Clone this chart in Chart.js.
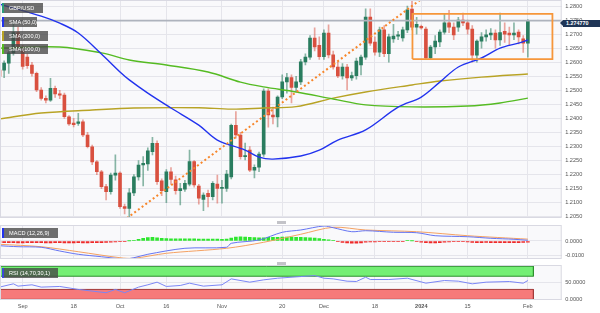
<!DOCTYPE html>
<html>
<head>
<meta charset="utf-8">
<script src="https://cdn.jsdelivr.net/npm/chart.js@4.4.1/dist/chart.umd.min.js"></script>
<style>
  html, body { margin: 0; padding: 0; background: #fff; }
  #wrap { position: relative; width: 600px; height: 313px; overflow: hidden; font-family: "Liberation Sans", Arial, sans-serif; }
  .pane { position: absolute; left: 0; }
  .tag { position: absolute; left: 2px; height: 10px; line-height: 10px; font-size: 5.6px; color: #fff;
         background: rgba(70, 70, 70, 0.78); padding-left: 5px; border-left: 2px solid; box-sizing: border-box; white-space: nowrap; z-index: 5; }
  .handle { position: absolute; left: 277px; width: 9px; height: 3px; background: #c3c3c8; z-index: 5; }
  #lastPrice { position: absolute; left: 563px; top: 20px; width: 37px; height: 7px; line-height: 7px; background: #1f3556;
               color: #fff; font-size: 5.4px; font-weight: bold; padding-left: 3px; box-sizing: border-box; z-index: 5; }
  #lastPrice:before { content: ""; position: absolute; left: -3px; top: 0; border-top: 3.5px solid transparent;
               border-bottom: 3.5px solid transparent; border-right: 3px solid #1f3556; }
</style>
</head>
<body>
<div id="wrap">
  <div class="pane" style="top:0"><canvas id="mainChart" width="600" height="222"></canvas></div>
  <div class="pane" style="top:222px"><canvas id="macdChart" width="600" height="40"></canvas></div>
  <div class="pane" style="top:262px"><canvas id="rsiChart" width="600" height="51"></canvas></div>

  <div class="tag" style="top:3px;width:41px;border-color:#2a9d7a">GBP/USD</div>
  <div class="tag" style="top:17px;width:35px;border-color:#2233ee">SMA (50,0)</div>
  <div class="tag" style="top:31px;width:46px;border-color:#b8a325">SMA (200,0)</div>
  <div class="tag" style="top:44px;width:46px;border-color:#55bb22">SMA (100,0)</div>
  <div class="tag" style="top:228px;width:56px;border-color:#2233ee">MACD (12,26,9)</div>
  <div class="tag" style="top:267.5px;width:56px;border-color:#3b49d8">RSI (14,70,30,1)</div>
  <div class="handle" style="top:221px"></div>
  <div class="handle" style="top:261.5px"></div>
  <div id="lastPrice">1.274770</div>
</div>

<script>
// === DATA ===
// x = trading day index (0 = Aug 25 2023 ... 114 = Feb 1 2024)
var tickIdx = [5, 16, 26, 36, 48, 61, 70, 81, 91, 101, 114];
var tickLabels = ['Sep', '18', 'Oct', '16', 'Nov', '20', 'Dec', '18', '2024', '15', 'Feb'];
var priceTicks = [1.2050, 1.2100, 1.2150, 1.2200, 1.2250, 1.2300, 1.2350, 1.2400,
                  1.2450, 1.2500, 1.2550, 1.2600, 1.2650, 1.2700, 1.2750, 1.2800];
var macdTicks = [-0.0100, 0.0000];
var rsiTicks = [0, 50];

var opens = [
  1.2572, 1.2572, 1.2597, 1.2633, 1.2705, 1.2640, 1.2618, 1.2590, 1.2560, 1.2501,
  1.2471, 1.2465, 1.2507, 1.2487, 1.2483, 1.2406, 1.2383, 1.2382, 1.2388, 1.2341,
  1.2299, 1.2245, 1.2210, 1.2157, 1.2139, 1.2198, 1.2205, 1.2086, 1.2080, 1.2135,
  1.2192, 1.2234, 1.2238, 1.2282, 1.2311, 1.2178, 1.2139, 1.2210, 1.2181, 1.2143,
  1.2148, 1.2166, 1.2246, 1.2159, 1.2112, 1.2133, 1.2121, 1.2166, 1.2151, 1.2151,
  1.2192, 1.2375, 1.2341, 1.2264, 1.2287, 1.2216, 1.2226, 1.2273, 1.2497, 1.2412,
  1.2405, 1.2476, 1.2530, 1.2545, 1.2510, 1.2530, 1.2601, 1.2618, 1.2686, 1.2660,
  1.2620, 1.2704, 1.2626, 1.2583, 1.2551, 1.2583, 1.2544, 1.2552, 1.2590, 1.2618,
  1.2761, 1.2672, 1.2636, 1.2715, 1.2630, 1.2683, 1.2693, 1.2686, 1.2715, 1.2789,
  1.2725, 1.2728, 1.2718, 1.2615, 1.2654, 1.2672, 1.2707, 1.2740, 1.2725, 1.2725,
  1.2750, 1.2740, 1.2718, 1.2625, 1.2675, 1.2690, 1.2697, 1.2704, 1.2679, 1.2710,
  1.2704, 1.2697, 1.2707, 1.2683, 1.2668
];
var highs = [
  1.2590, 1.2605, 1.2640, 1.2746, 1.2725, 1.2660, 1.2630, 1.2600, 1.2565, 1.2510,
  1.2480, 1.2543, 1.2515, 1.2500, 1.2490, 1.2410, 1.2400, 1.2418, 1.2395, 1.2350,
  1.2305, 1.2250, 1.2215, 1.2165, 1.2205, 1.2270, 1.2210, 1.2095, 1.2150, 1.2200,
  1.2250, 1.2264, 1.2295, 1.2333, 1.2320, 1.2185, 1.2218, 1.2225, 1.2195, 1.2169,
  1.2180, 1.2287, 1.2250, 1.2165, 1.2135, 1.2145, 1.2175, 1.2198, 1.2180, 1.2215,
  1.2380, 1.2424, 1.2350, 1.2312, 1.2300, 1.2235, 1.2280, 1.2505, 1.2505, 1.2440,
  1.2480, 1.2555, 1.2560, 1.2555, 1.2550, 1.2610, 1.2630, 1.2695, 1.2722, 1.2690,
  1.2715, 1.2733, 1.2640, 1.2600, 1.2595, 1.2592, 1.2565, 1.2615, 1.2625, 1.2790,
  1.2790, 1.2690, 1.2725, 1.2730, 1.2700, 1.2735, 1.2710, 1.2725, 1.2800, 1.2827,
  1.2760, 1.2732, 1.2725, 1.2660, 1.2695, 1.2715, 1.2770, 1.2785, 1.2740, 1.2760,
  1.2775, 1.2750, 1.2730, 1.2680, 1.2705, 1.2715, 1.2720, 1.2715, 1.2775, 1.2740,
  1.2725, 1.2740, 1.2715, 1.2695, 1.2752
];
var lows = [
  1.2540, 1.2545, 1.2560, 1.2625, 1.2645, 1.2575, 1.2578, 1.2550, 1.2495, 1.2465,
  1.2455, 1.2460, 1.2475, 1.2470, 1.2400, 1.2375, 1.2370, 1.2375, 1.2335, 1.2295,
  1.2235, 1.2200, 1.2150, 1.2110, 1.2130, 1.2180, 1.2080, 1.2060, 1.2045, 1.2125,
  1.2180, 1.2160, 1.2215, 1.2270, 1.2165, 1.2125, 1.2100, 1.2165, 1.2130, 1.2092,
  1.2140, 1.2160, 1.2155, 1.2095, 1.2072, 1.2085, 1.2110, 1.2098, 1.2098, 1.2140,
  1.2185, 1.2330, 1.2255, 1.2252, 1.2210, 1.2188, 1.2210, 1.2265, 1.2369, 1.2380,
  1.2370, 1.2470, 1.2490, 1.2455, 1.2495, 1.2520, 1.2590, 1.2610, 1.2640, 1.2610,
  1.2610, 1.2615, 1.2575, 1.2545, 1.2540, 1.2501, 1.2535, 1.2540, 1.2555, 1.2610,
  1.2660, 1.2625, 1.2620, 1.2620, 1.2600, 1.2670, 1.2680, 1.2675, 1.2705, 1.2715,
  1.2700, 1.2718, 1.2610, 1.2610, 1.2630, 1.2655, 1.2700, 1.2705, 1.2680, 1.2710,
  1.2730, 1.2700, 1.2600, 1.2600, 1.2650, 1.2675, 1.2680, 1.2650, 1.2660, 1.2670,
  1.2660, 1.2680, 1.2665, 1.2635, 1.2618
];
var closes = [
  1.2550, 1.2597, 1.2633, 1.2705, 1.2655, 1.2585, 1.2588, 1.2560, 1.2501, 1.2471,
  1.2465, 1.2507, 1.2487, 1.2483, 1.2406, 1.2380, 1.2378, 1.2388, 1.2341, 1.2299,
  1.2245, 1.2210, 1.2157, 1.2139, 1.2198, 1.2205, 1.2086, 1.2080, 1.2135, 1.2192,
  1.2234, 1.2240, 1.2285, 1.2311, 1.2175, 1.2143, 1.2210, 1.2183, 1.2143, 1.2150,
  1.2169, 1.2246, 1.2163, 1.2116, 1.2127, 1.2121, 1.2169, 1.2151, 1.2155, 1.2202,
  1.2375, 1.2341, 1.2264, 1.2268, 1.2216, 1.2226, 1.2273, 1.2497, 1.2412, 1.2405,
  1.2476, 1.2530, 1.2545, 1.2510, 1.2530, 1.2601, 1.2618, 1.2686, 1.2654, 1.2620,
  1.2704, 1.2626, 1.2583, 1.2551, 1.2583, 1.2544, 1.2552, 1.2604, 1.2618, 1.2761,
  1.2668, 1.2636, 1.2715, 1.2630, 1.2690, 1.2693, 1.2697, 1.2715, 1.2786, 1.2725,
  1.2735, 1.2722, 1.2615, 1.2654, 1.2675, 1.2707, 1.2740, 1.2725, 1.2697, 1.2750,
  1.2740, 1.2718, 1.2625, 1.2675, 1.2690, 1.2697, 1.2704, 1.2679, 1.2705, 1.2700,
  1.2697, 1.2704, 1.2690, 1.2668, 1.2748
];
var lastPrice = 1.274770;

// moving averages at these day indexes
var sma50X = [0, 9, 13, 17, 22, 26, 28, 32, 37, 43, 47, 53, 56, 59, 65, 69, 73, 79, 86, 91, 95, 99, 104, 108, 112, 114];
var sma50Y = [1.2807, 1.2764, 1.2739, 1.2704, 1.2629, 1.2565, 1.2537, 1.2490, 1.2437, 1.2376, 1.2323, 1.2287, 1.2262,
              1.2255, 1.2266, 1.2287, 1.2323, 1.2359, 1.2440, 1.2476, 1.2529, 1.2583, 1.2615, 1.2650, 1.2668, 1.2679];
var sma100X = [0, 13, 22, 28, 36, 45, 52, 57, 64, 72, 79, 89, 101, 108, 114];
var sma100Y = [1.2650, 1.2654, 1.2633, 1.2608, 1.2590, 1.2565, 1.2529, 1.2512, 1.2494, 1.2469, 1.2448, 1.2441, 1.2444, 1.2455, 1.2472];
var sma200X = [0, 9, 20, 29, 43, 50, 57, 64, 72, 79, 89, 95, 104, 114];
var sma200Y = [1.2398, 1.2419, 1.2430, 1.2437, 1.2438, 1.2433, 1.2437, 1.2442, 1.2472, 1.2494, 1.2519, 1.2533, 1.2547, 1.2558];

// drawings: rising trend line and the range box
var trendX = [27.5, 90.7];
var trendY = [1.2045, 1.2821];
var boxX = [89.1, 119.3];
var boxY = [1.2611, 1.2772];

// MACD (12,26,9)
var macdX = [0, 4, 9, 13, 17, 22, 27, 29, 32, 40, 49, 50, 56, 61, 65, 70, 72, 76, 79, 85, 90, 94, 101, 106, 111, 114];
var macdY = [-0.0033, -0.0040, -0.0044, -0.0070, -0.0093, -0.0110, -0.0126, -0.0117, -0.0093, -0.0051, -0.0044, -0.0016, 0.0007,
             0.0061, 0.0077, 0.0105, 0.0093, 0.0065, 0.0072, 0.0061, 0.0058, 0.0037, 0.0030, 0.0019, 0.0012, 0.0005];
var signalX = [0, 9, 17, 26, 29, 36, 49, 57, 65, 72, 79, 90, 101, 114];
var signalY = [-0.0023, -0.0040, -0.0075, -0.0117, -0.0121, -0.0086, -0.0051, -0.0009, 0.0047, 0.0096, 0.0077, 0.0065, 0.0037, 0.0013];
var macdHist = [
  -0.0010, -0.0011, -0.0012, -0.0012, -0.0013, -0.0013, -0.0012, -0.0012, -0.0011, -0.0012,
  -0.0013, -0.0013, -0.0012, -0.0012, -0.0013, -0.0014, -0.0013, -0.0012, -0.0013, -0.0013,
  -0.0012, -0.0011, -0.0011, -0.0010, -0.0009, -0.0007, -0.0005, -0.0002, 0.0001, 0.0005,
  0.0012, 0.0018, 0.0024, 0.0026, 0.0022, 0.0018, 0.0017, 0.0016, 0.0015, 0.0015,
  0.0015, 0.0016, 0.0015, 0.0014, 0.0013, 0.0013, 0.0013, 0.0013, 0.0012, 0.0014,
  0.0020, 0.0028, 0.0030, 0.0028, 0.0026, 0.0024, 0.0022, 0.0022, 0.0025, 0.0025,
  0.0026, 0.0028, 0.0028, 0.0027, 0.0026, 0.0025, 0.0024, 0.0022, 0.0020, 0.0017,
  0.0012, 0.0008, 0.0003, -0.0002, -0.0010, -0.0014, -0.0016, -0.0016, -0.0014, -0.0008,
  -0.0006, -0.0006, -0.0005, -0.0005, -0.0004, -0.0004, -0.0003, -0.0002, 0.0002, 0.0001,
  -0.0002, -0.0008, -0.0012, -0.0014, -0.0014, -0.0012, -0.0008, -0.0006, -0.0005, -0.0005,
  -0.0004, -0.0006, -0.0010, -0.0012, -0.0012, -0.0010, -0.0011, -0.0011, -0.0012, -0.0012,
  -0.0012, -0.0011, -0.0011, -0.0010, -0.0008
];

// RSI (14)
var rsiX = [0, 3, 4, 7, 9, 13, 17, 23, 25, 27, 30, 32, 34, 36, 39, 41, 44, 48, 50, 54,
            57, 60, 65, 68, 70, 72, 75, 77, 79, 80, 84, 88, 92, 96, 99, 102, 105, 110, 113, 114];
var rsiY = [37, 47, 40, 44, 37, 39, 30, 20, 30, 20, 37, 44, 52, 39, 42, 49, 40, 44, 62, 52,
            59, 64, 69, 72, 64, 62, 55, 54, 67, 60, 60, 64, 49, 57, 55, 47, 52, 54, 49, 57];
var rsiBandX = [0, 115.2];
var rsiUpper = [70, 100];
var rsiLower = [0, 30];

// === SETTINGS ===
var X_MIN = 0.108, X_MAX = 121.3;
var MAIN_MIN = 1.20455, MAIN_MAX = 1.28214;
var GREEN = '#2a7d5f', RED = '#d9503f';

Chart.defaults.font.family = '"Liberation Sans", Arial, sans-serif';
Chart.defaults.font.size = 5.6;
Chart.defaults.color = '#555';

function pts(xs, ys) {
    return xs.map(function (x, i) { return { x: x, y: ys[i] }; });
}
function rectPts(xs, ys) {
    return [{ x: xs[0], y: ys[0] }, { x: xs[0], y: ys[1] }, { x: xs[1], y: ys[1] }, { x: xs[1], y: ys[0] }, { x: xs[0], y: ys[0] }];
}
function lineSet(data, color, width, order, extra) {
    var ds = { type: 'line', data: data, borderColor: color, borderWidth: width, pointRadius: 0,
               fill: false, tension: 0, order: order };
    for (var k in extra) ds[k] = extra[k];
    return ds;
}

// plot area background + border
var panelBg = {
    id: 'panelBg',
    beforeDraw: function (chart) {
        var a = chart.chartArea, ctx = chart.ctx;
        ctx.save();
        ctx.fillStyle = '#f9f9fb';
        ctx.fillRect(a.left, a.top, a.right - a.left, a.bottom - a.top);
        ctx.restore();
    },
    afterDraw: function (chart) {
        var a = chart.chartArea, ctx = chart.ctx;
        ctx.save();
        ctx.strokeStyle = '#d9d9e2';
        ctx.lineWidth = 1;
        ctx.strokeRect(a.left + 0.5, a.top + 0.5, a.right - a.left - 1, a.bottom - a.top - 1);
        ctx.restore();
    }
};

function xAxis(showLabels) {
    return {
        type: 'linear', min: X_MIN, max: X_MAX, offset: false,
        border: { display: false },
        grid: { color: '#e5e5eb', drawTicks: false, offset: false },
        afterBuildTicks: function (s) { s.ticks = tickIdx.map(function (v) { return { value: v }; }); },
        ticks: {
            display: showLabels, autoSkip: false, maxRotation: 0, padding: 3, color: '#555',
            font: function (c) {
                return { size: 5.6, weight: (c.tick && c.tick.value === 91) ? 'bold' : 'normal' };
            },
            callback: function (v) { return tickLabels[tickIdx.indexOf(v)]; }
        },
        afterFit: function (s) { s.height = showLabels ? 13 : 0; s.paddingLeft = 0; s.paddingRight = 0; }
    };
}

function yAxis(min, max, ticks) {
    return {
        position: 'right', min: min, max: max,
        border: { display: false },
        grid: { color: '#e5e5eb', drawTicks: false },
        afterBuildTicks: function (s) { s.ticks = ticks.map(function (v) { return { value: v }; }); },
        ticks: { padding: 3.5, color: '#555', font: { size: 5.6 }, callback: function (v) { return v.toFixed(4); } },
        afterFit: function (s) { s.width = 38.3; s.paddingTop = 0; s.paddingBottom = 0; }
    };
}

function baseOptions(pad, showX, yMin, yMax, yTicks) {
    return {
        responsive: false, animation: false, events: [],
        layout: { padding: pad },
        plugins: { legend: { display: false }, tooltip: { enabled: false } },
        scales: { x: xAxis(showX), y: yAxis(yMin, yMax, yTicks) }
    };
}

// === MAIN PANEL: candles + SMA ===
var bodyData = closes.map(function (c, i) { return { x: i, y: [opens[i], c] }; });
var wickData = closes.map(function (c, i) { return { x: i, y: [lows[i], highs[i]] }; });

new Chart(document.getElementById('mainChart'), {
    type: 'bar',
    data: {
        datasets: [
            lineSet(rectPts(boxX, boxY), '#f6963a', 1.8, 0),
            lineSet(pts(trendX, trendY), '#f7862a', 2, 1, { borderDash: [2, 2.6] }),
            lineSet(pts(sma50X, sma50Y), '#2233ee', 1.4, 2, { tension: 0.35 }),
            lineSet(pts(sma100X, sma100Y), '#55bb22', 1.4, 3, { tension: 0.35 }),
            lineSet(pts(sma200X, sma200Y), '#b8a325', 1.4, 4, { tension: 0.35 }),
            lineSet(pts([X_MIN, X_MAX], [lastPrice, lastPrice]), '#aeb3bd', 1.8, 5),
            {
                type: 'bar', data: bodyData, order: 6, grouped: false, barThickness: 3, minBarLength: 1,
                backgroundColor: function (c) { return closes[c.dataIndex] >= opens[c.dataIndex] ? GREEN : RED; }
            },
            {
                type: 'bar', data: wickData, order: 7, grouped: false, barThickness: 1,
                backgroundColor: function (c) {
                    return closes[c.dataIndex] >= opens[c.dataIndex] ? 'rgba(42,125,95,0.55)' : 'rgba(217,80,63,0.5)';
                }
            }
        ]
    },
    options: baseOptions({ top: 0, right: 0, bottom: 4, left: 0 }, false, MAIN_MIN, MAIN_MAX, priceTicks),
    plugins: [panelBg]
});

// === MACD PANEL ===
new Chart(document.getElementById('macdChart'), {
    type: 'bar',
    data: {
        datasets: [
            lineSet(pts(macdX, macdY), '#6675f2', 1, 0, { tension: 0.3 }),
            lineSet(pts(signalX, signalY), '#f4a162', 1, 1, { tension: 0.3 }),
            {
                type: 'bar', order: 2, grouped: false, barThickness: 3,
                data: macdHist.map(function (v, i) { return { x: i, y: v }; }),
                backgroundColor: function (c) { return macdHist[c.dataIndex] >= 0 ? '#2ee62e' : '#ee2a2a'; }
            }
        ]
    },
    options: baseOptions({ top: 3, right: 0, bottom: 3, left: 0 }, false, -0.01259, 0.01119, macdTicks),
    plugins: [panelBg]
});

// === RSI PANEL ===
new Chart(document.getElementById('rsiChart'), {
    type: 'line',
    data: {
        datasets: [
            lineSet(pts(rsiX, rsiY), '#7b86f5', 1, 0),
            lineSet(rectPts(rsiBandX, rsiUpper), '#2f8f2f', 1, 1),
            lineSet(rectPts(rsiBandX, rsiLower), '#a33a3a', 1, 2),
            lineSet(pts(rsiBandX, [rsiUpper[1], rsiUpper[1]]), 'rgba(0,0,0,0)', 0, 3, { fill: '+1', backgroundColor: '#74ef74' }),
            lineSet(pts(rsiBandX, [rsiUpper[0], rsiUpper[0]]), 'rgba(0,0,0,0)', 0, 4),
            lineSet(pts(rsiBandX, [rsiLower[1], rsiLower[1]]), 'rgba(0,0,0,0)', 0, 5, { fill: '+1', backgroundColor: '#f67a7a' }),
            lineSet(pts(rsiBandX, [rsiLower[0], rsiLower[0]]), 'rgba(0,0,0,0)', 0, 6)
        ]
    },
    options: baseOptions({ top: 3, right: 0, bottom: 0, left: 0 }, true, -2, 104, rsiTicks),
    plugins: [panelBg]
});
</script>
</body>
</html>
